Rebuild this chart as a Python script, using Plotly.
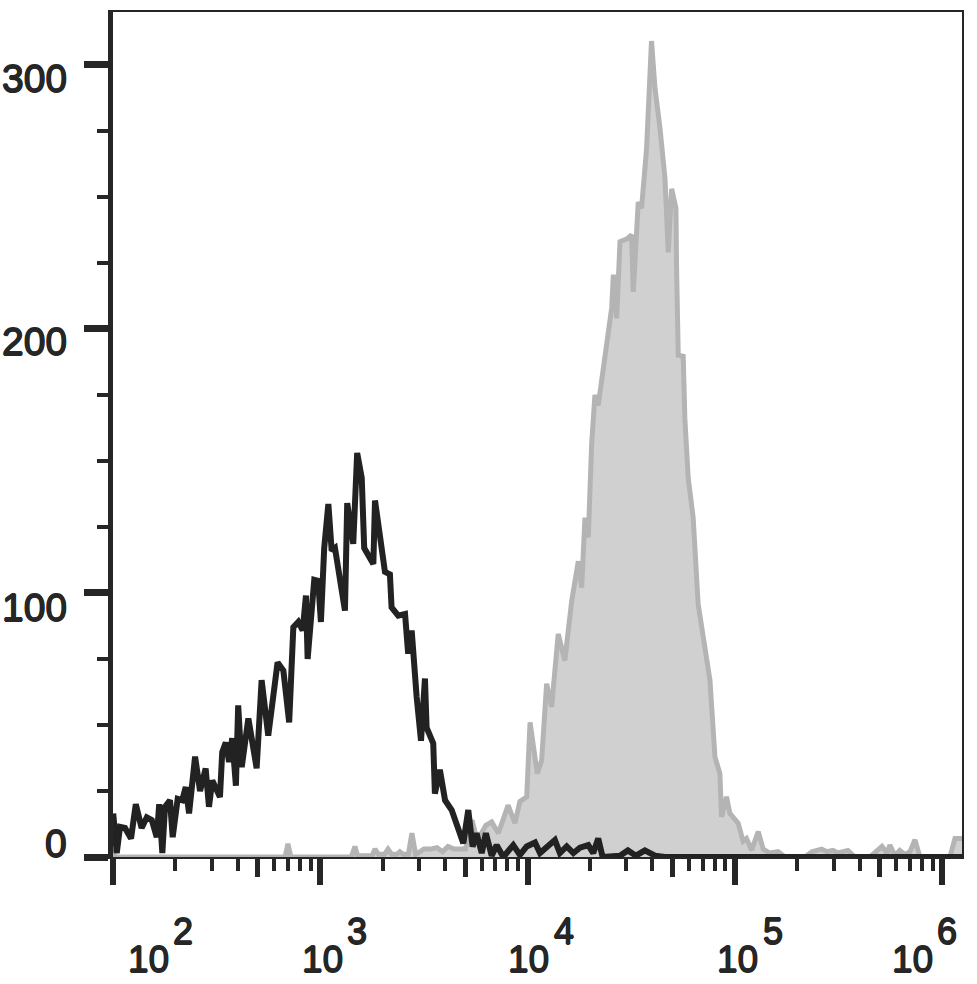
import plotly.graph_objects as go

# ---------------- data ----------------
# Isotype control histogram (black outline): log10 fluorescence, cell count
control_log10 = [2.001, 2.018, 2.034, 2.058, 2.087, 2.110, 2.138, 2.163, 2.187, 2.211,
                 2.223, 2.238, 2.251, 2.275, 2.288, 2.312, 2.334, 2.351, 2.367, 2.396,
                 2.420, 2.447, 2.463, 2.479, 2.516, 2.527, 2.544, 2.560, 2.575, 2.593,
                 2.604, 2.621, 2.653, 2.693, 2.717, 2.749, 2.794, 2.822, 2.850, 2.870,
                 2.894, 2.915, 2.931, 2.939, 2.971, 2.990, 3.003, 3.019, 3.039, 3.055,
                 3.071, 3.119, 3.130, 3.159, 3.178, 3.200, 3.212, 3.256, 3.264, 3.288,
                 3.312, 3.336, 3.344, 3.376, 3.409, 3.424, 3.441, 3.465, 3.486, 3.505,
                 3.513, 3.545, 3.553, 3.577, 3.602, 3.634, 3.666, 3.690, 3.714, 3.735,
                 3.754, 3.779, 3.799, 3.827, 3.851, 3.883, 3.931, 3.963, 3.996, 4.036,
                 4.060, 4.092, 4.132, 4.156, 4.189, 4.221, 4.253, 4.293, 4.317, 4.341,
                 4.362, 4.446, 4.484, 4.523, 4.566, 4.615, 4.663, 6.096]
control_count = [16.5, 1.5, 11.4, 11, 7, 20, 11, 15, 14, 7.5,
                 20, 1.5, 19, 21.5, 7.5, 22, 21.5, 26.5, 16.5, 38,
                 25, 33.5, 19, 29, 22.7, 39.7, 43.4, 36, 45, 27,
                 57.4, 34, 52.5, 33.6, 67, 46, 73.7, 70.6, 51, 87,
                 89, 85.8, 99, 75, 105, 104.6, 89, 117, 133.7, 116,
                 117, 93.3, 134, 118.6, 153, 143.6, 117, 111, 135, 122,
                 108, 107, 94.5, 91.4, 92, 77, 85.8, 60.6, 44, 67.6,
                 49, 43, 24, 33, 21.5, 17.8, 11.4, 5.2, 17.8, 3.9,
                 9, 1.5, 9, 0.5, 4.5, 0, 4.5, 0.8, 4, 5.5,
                 1.5, 4, 6.4, 1.5, 4, 1.5, 3.5, 4.5, 1.5, 7,
                 0, 0.5, 2.5, 0.5, 2.5, 0.5, 0, 0]

# Stained sample histogram (grey filled): log10 fluorescence, cell count
stained_log10 = [2.000, 2.010, 2.830, 2.844, 2.858, 3.150, 3.167, 3.180, 3.250, 3.264,
                 3.280, 3.310, 3.327, 3.345, 3.370, 3.384, 3.400, 3.425, 3.442, 3.460,
                 3.481, 3.500, 3.530, 3.563, 3.590, 3.616, 3.645, 3.674, 3.700, 3.732,
                 3.755, 3.770, 3.799, 3.827, 3.859, 3.906, 3.939, 3.963, 3.996, 4.012,
                 4.047, 4.068, 4.092, 4.116, 4.148, 4.180, 4.213, 4.245, 4.261, 4.277,
                 4.293, 4.309, 4.325, 4.341, 4.373, 4.406, 4.414, 4.430, 4.446, 4.478,
                 4.502, 4.510, 4.534, 4.550, 4.574, 4.587, 4.598, 4.615, 4.639, 4.663,
                 4.679, 4.695, 4.716, 4.719, 4.727, 4.751, 4.759, 4.775, 4.799, 4.823,
                 4.848, 4.880, 4.904, 4.928, 4.936, 4.960, 4.976, 5.000, 5.016, 5.040,
                 5.056, 5.081, 5.113, 5.137, 5.169, 5.209, 5.242, 5.338, 5.372, 5.419,
                 5.444, 5.473, 5.497, 5.546, 5.579, 5.652, 5.686, 5.710, 5.734, 5.748,
                 5.772, 5.796, 5.820, 5.845, 5.869, 5.893, 6.038, 6.062, 6.096]
stained_count = [3, 0, 0, 5, 0, 0, 4, 0.5, 0.5, 3,
                 1, 1, 3, 1, 1, 2, 1, 1, 9, 1,
                 2, 3, 3, 3.5, 2, 4, 3, 3, 3, 14,
                 7, 8, 12, 13.3, 9, 19.6, 12.8, 21, 22.8, 51,
                 31.6, 36.6, 65.6, 56.8, 84.5, 74.4, 97, 112, 102, 128.5,
                 121, 156, 175, 171, 190, 208, 220.5, 204, 233, 234,
                 235.6, 214, 248, 245.7, 268, 291, 309, 291, 276, 257,
                 229, 253, 245.7, 223, 190, 189.6, 166, 143.6, 128.5, 95.8,
                 83, 66.9, 37.9, 31.6, 15.2, 22.8, 16.5, 14, 12.8, 6,
                 7, 2.6, 9.6, 3, 1.5, 2, 0, 0, 2, 3,
                 2, 2.5, 1.5, 2.5, 0, 0, 2.5, 4, 1.5, 4.5,
                 0.5, 2.5, 1, 2, 6.5, 0, 0, 7, 7]

decade_exponents = [2, 3, 4, 5, 6]
y_tick_values = [0, 100, 200, 300]
y_tick_labels = ["0", "100", "200", "300"]
y_minor_values = [25, 50, 75, 125, 150, 175, 225, 250, 275]

# ---------------- style ----------------
INK = "#262626"
FONT = "Liberation Sans, Arial, sans-serif"
# slight outline to match the heavier glyph strokes of the reference
HEAVY = ("0.7px 0 0 #262626, -0.7px 0 0 #262626, "
         "0 0.7px 0 #262626, 0 -0.7px 0 #262626")
x_range_log = [2.0, 6.096]
y_range = [0, 320]

# label placement offsets (px) relative to their tick
x_label_shift = [35, 2, 1, 3, -30]
y_label_shift = [14, -15, -13, -14]

fig = go.Figure()
fig.add_trace(go.Scatter(
    x=[10 ** v for v in stained_log10], y=stained_count,
    mode="lines", line=dict(color="#b4b4b4", width=5),
    fill="tozeroy", fillcolor="#d0d0d0", hoverinfo="skip", showlegend=False))
fig.add_trace(go.Scatter(
    x=[10 ** v for v in control_log10], y=control_count,
    mode="lines", line=dict(color="#222222", width=6),
    hoverinfo="skip", showlegend=False))
# empty trace so the overlay axes (mid ticks, right frame line) get drawn
fig.add_trace(go.Scatter(x=[], y=[], xaxis="x2", yaxis="y2", mode="lines",
                         hoverinfo="skip", showlegend=False))

major_x = [10 ** e for e in decade_exponents]
mid_x = [5 * 10 ** e for e in decade_exponents[:-1]]
minor_x = [d * 10 ** e for e in decade_exponents[:-1] for d in (2, 3, 4, 6, 7, 8, 9)]
minor_x += [2e6, 3e6, 4e6]

annotations = []
for e, sh in zip(decade_exponents, x_label_shift):
    annotations.append(dict(
        x=e, xref="x", y=0, yref="paper", text="10", showarrow=False,
        xanchor="center", yanchor="middle", xshift=sh, yshift=-102,
        font=dict(family=FONT, size=37, color=INK, shadow=HEAVY)))
    annotations.append(dict(
        x=e, xref="x", y=0, yref="paper", text=str(e), showarrow=False,
        xanchor="center", yanchor="middle", xshift=sh + 35, yshift=-74,
        font=dict(family=FONT, size=36, color=INK, shadow=HEAVY)))
for v, lab, sh in zip(y_tick_values, y_tick_labels, y_label_shift):
    annotations.append(dict(
        x=0, xref="paper", y=v, yref="y", text=lab, showarrow=False,
        xanchor="right", yanchor="middle", xshift=-44, yshift=sh,
        font=dict(family=FONT, size=39, color=INK, shadow=HEAVY)))

fig.update_layout(
    width=977, height=984,
    margin=dict(l=113, r=15, t=10, b=127),
    paper_bgcolor="white", plot_bgcolor="white",
    showlegend=False,
    annotations=annotations,
    xaxis=dict(
        type="log", range=x_range_log, showgrid=False, zeroline=False,
        showline=True, linecolor=INK, linewidth=2, mirror=True,
        ticks="outside", tickvals=major_x, ticklen=26, tickwidth=6, tickcolor=INK,
        showticklabels=False,
        minor=dict(tickvals=minor_x, ticks="outside", ticklen=12, tickwidth=3.5,
                   tickcolor=INK, showgrid=False)),
    xaxis2=dict(
        type="log", range=x_range_log, overlaying="x", anchor="y", side="bottom",
        showgrid=False, zeroline=False, showline=False,
        ticks="outside", tickvals=mid_x, ticklen=19, tickwidth=5, tickcolor=INK,
        showticklabels=False),
    yaxis=dict(
        range=y_range, showgrid=False, zeroline=False,
        showline=True, linecolor=INK, linewidth=5,
        ticks="outside", tickvals=y_tick_values, ticklen=24, tickwidth=7, tickcolor=INK,
        showticklabels=False,
        minor=dict(tickvals=y_minor_values, ticks="outside", ticklen=11, tickwidth=4,
                   tickcolor=INK, showgrid=False)),
    yaxis2=dict(
        range=y_range, overlaying="y", anchor="x", side="right",
        showgrid=False, zeroline=False, showline=True, linecolor=INK, linewidth=2,
        ticks="", showticklabels=False),
)

# remove the default 8 px page margin so the figure fills the window exactly
fig.write_html("out.html", config={"displayModeBar": False},
               post_script="document.body.style.margin='0';document.body.style.overflow='hidden';")
